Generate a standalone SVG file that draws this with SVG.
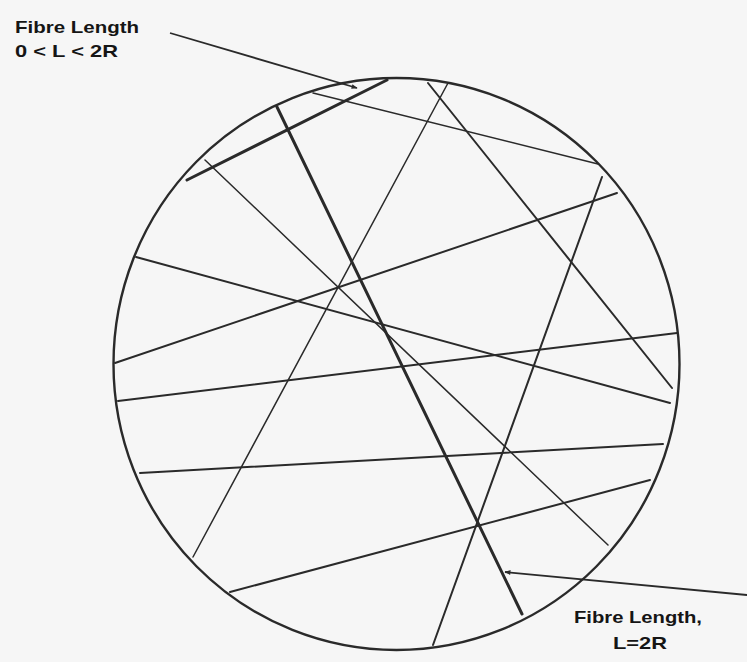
<svg xmlns="http://www.w3.org/2000/svg" width="747" height="662" viewBox="0 0 747 662">
  <style>
    .bg { fill: #f6f6f6; }
    .circ { fill: none; stroke: #2a2a2a; stroke-width: 2.4; }
    .chord { stroke: #2a2a2a; stroke-width: 2; fill: none; stroke-linecap: round; }
    .thin { stroke: #2a2a2a; stroke-width: 1.5; fill: none; stroke-linecap: round; }
    .thick { stroke: #2a2a2a; stroke-width: 3; fill: none; stroke-linecap: round; }
    .leader { stroke: #2a2a2a; stroke-width: 1.8; fill: none; }
    .lbl { font-family: "Liberation Sans", Arial, sans-serif; font-weight: bold; font-size: 17px; fill: #151515; }
  </style>
  <defs>
    <marker id="arr" viewBox="0 0 10 10" refX="9" refY="5" markerWidth="7" markerHeight="6" orient="auto" markerUnits="userSpaceOnUse">
      <path d="M0,1 L10,5 L0,9 Z" fill="#2a2a2a"/>
    </marker>
  </defs>
  <rect class="bg" x="0" y="0" width="747" height="662"/>

  <g id="circle-node">
    <ellipse class="circ" cx="396.5" cy="364" rx="283" ry="286"/>
  </g>

  <g id="connectors">
    <!-- chords -->
    <line class="thin" x1="313" y1="93" x2="598" y2="164"/>
    <line class="chord" x1="428" y1="83" x2="672" y2="388"/>
    <line class="thin" x1="448" y1="83" x2="193" y2="557"/>
    <line class="thin" x1="205" y1="160" x2="608" y2="545"/>
    <line class="chord" x1="602" y1="177" x2="433" y2="645"/>
    <line class="chord" x1="136" y1="257" x2="670" y2="403"/>
    <line class="chord" x1="115" y1="363" x2="617" y2="193"/>
    <line class="chord" x1="118" y1="401" x2="677" y2="333"/>
    <line class="chord" x1="140" y1="473" x2="663" y2="444"/>
    <line class="chord" x1="230" y1="592" x2="650" y2="480"/>
    <!-- highlighted fibres -->
    <line class="thick" x1="187" y1="180" x2="387" y2="80"/>
    <line class="thick" x1="277" y1="107" x2="522" y2="614"/>
    <!-- leaders -->
    <line class="leader" x1="170" y1="33" x2="357" y2="88" marker-end="url(#arr)"/>
    <line class="leader" x1="747" y1="595" x2="505" y2="572" marker-end="url(#arr)"/>
  </g>

  <g id="label-short">
    <text class="lbl" x="15" y="33" textLength="124" lengthAdjust="spacingAndGlyphs">Fibre Length</text>
    <text class="lbl" x="15" y="57" textLength="103" lengthAdjust="spacingAndGlyphs">0 &lt; L &lt; 2R</text>
  </g>

  <g id="label-diameter">
    <text class="lbl" x="574" y="623" textLength="128" lengthAdjust="spacingAndGlyphs">Fibre Length,</text>
    <text class="lbl" x="613" y="649" textLength="54" lengthAdjust="spacingAndGlyphs">L=2R</text>
  </g>
</svg>
